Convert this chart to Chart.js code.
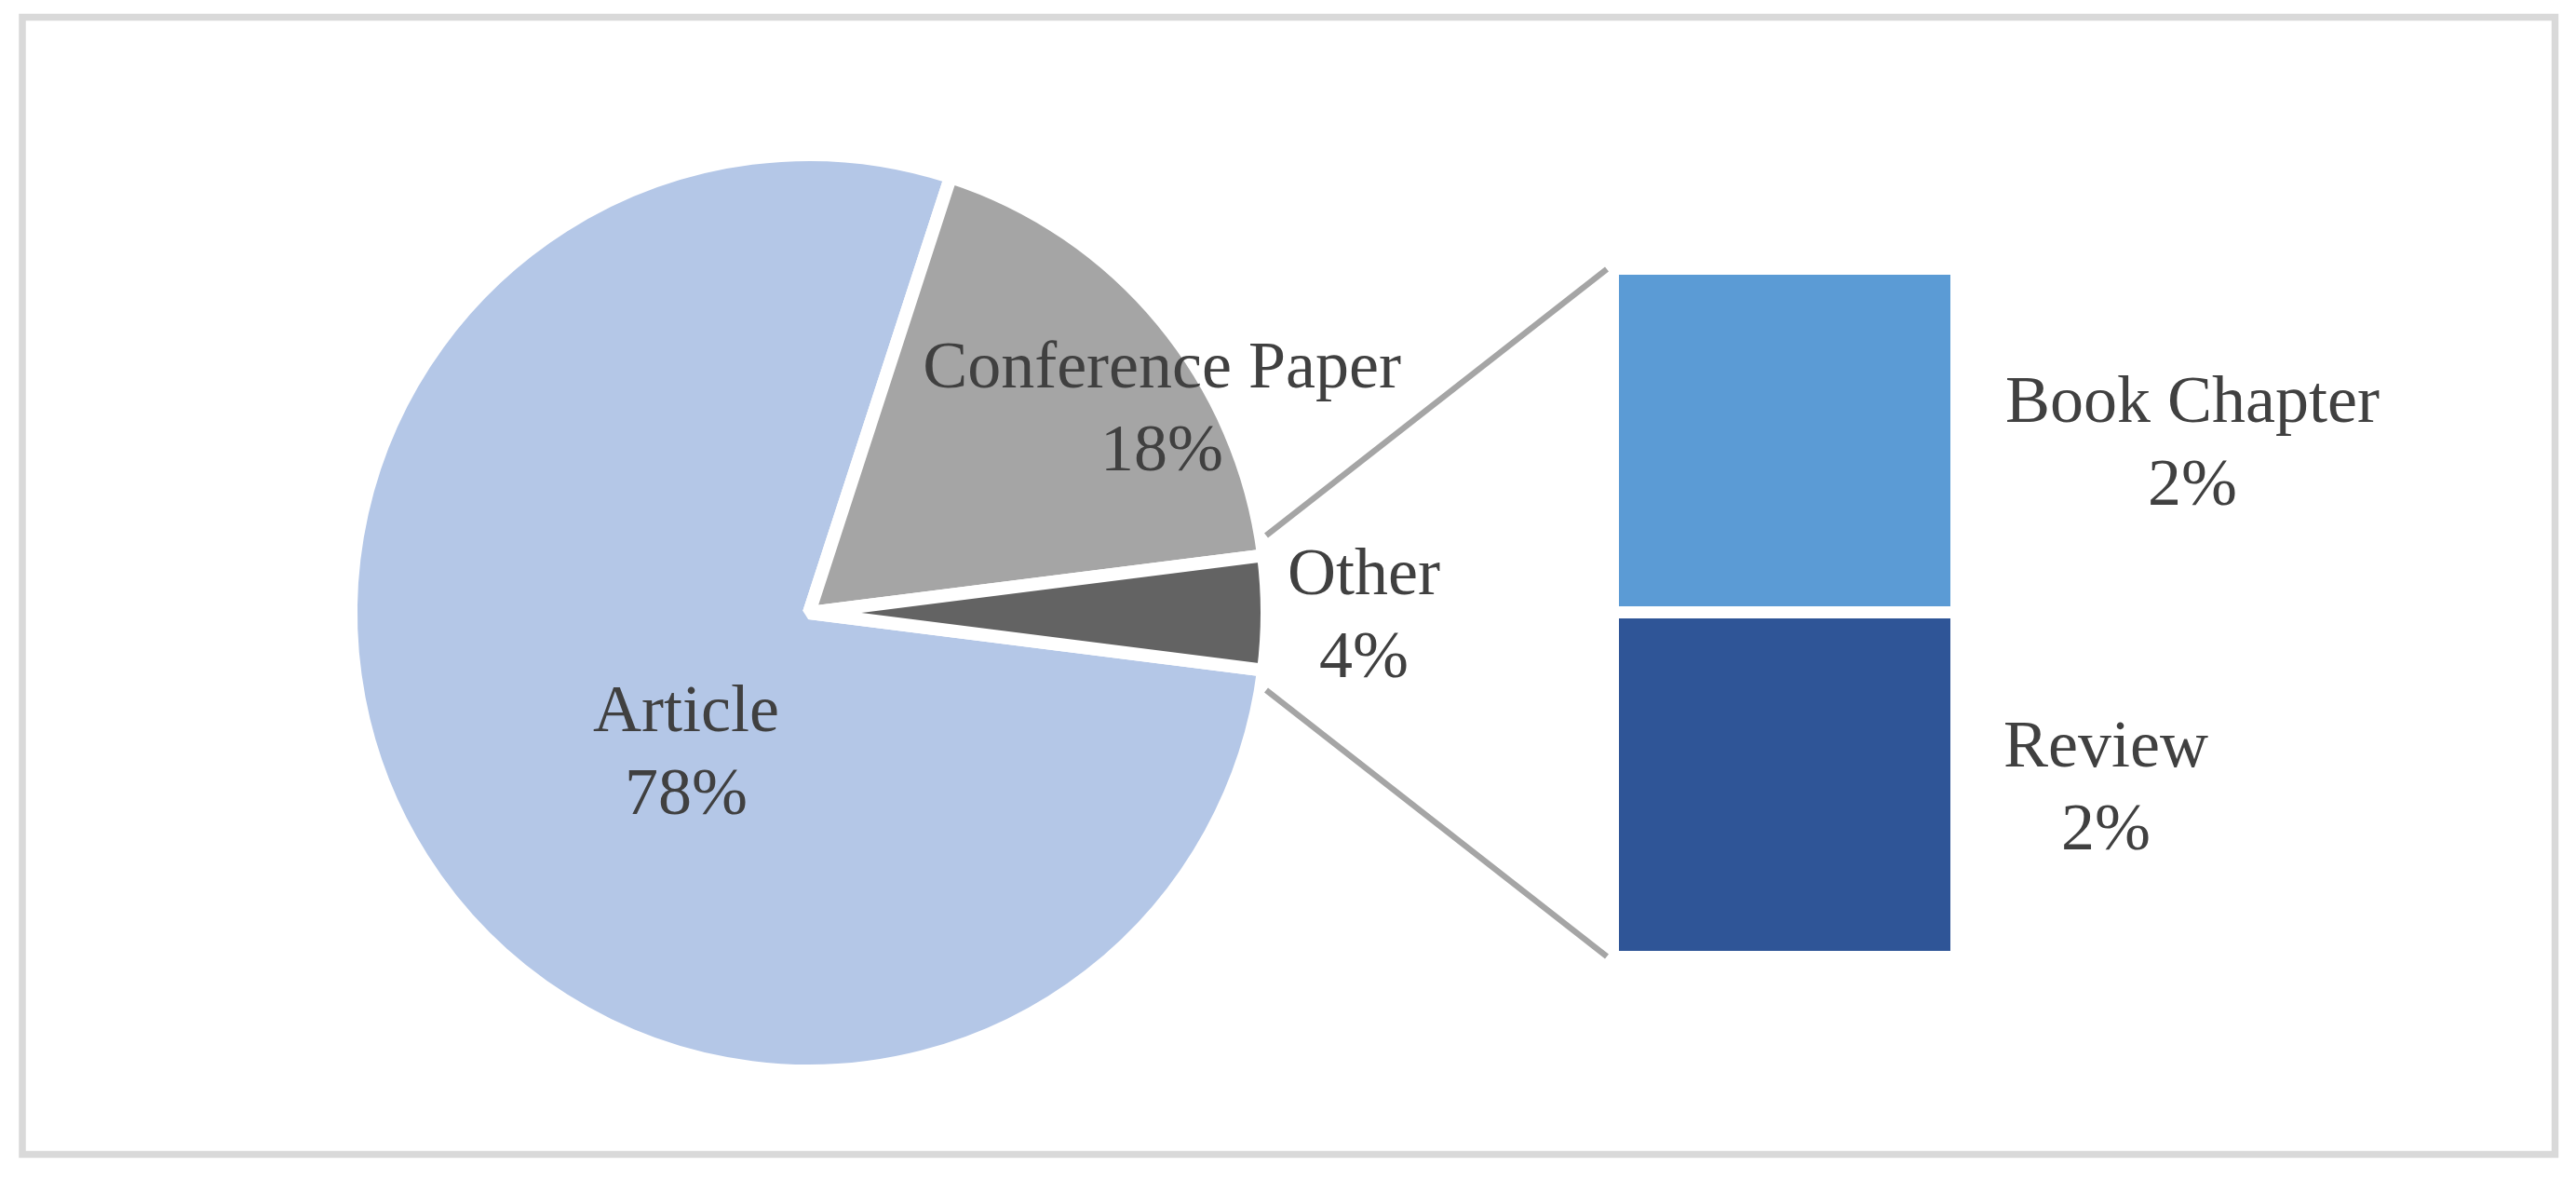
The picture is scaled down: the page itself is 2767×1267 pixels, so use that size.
<!DOCTYPE html>
<html><head><meta charset="utf-8">
<script src="https://cdn.jsdelivr.net/npm/chart.js@4.4.0/dist/chart.umd.min.js"></script>
<style>
html,body{margin:0;padding:0;background:#fff;}
#wrap{position:relative;width:2767px;height:1267px;overflow:hidden;background:#fff;}
canvas{position:absolute;left:0;top:0;}
</style></head><body>
<div id="wrap"><canvas id="pie" width="2767" height="1267"></canvas><canvas id="bar" width="2767" height="1267"></canvas></div>
<script>
// ---- data ----
const pieLabels = ['Article', 'Conference Paper', 'Other'];
const pieValues = [78, 18, 4];
const pieColors = ['#b4c7e7', '#a5a5a5', '#636363'];
const barLabels = ['Review', 'Book Chapter'];
const barValues = [2, 2];
const barColors = ['#2f5597', '#5b9bd5'];

const FONT = '72px "Liberation Serif", "Times New Roman", serif';
const TXT = '#404040';
const LINE_H = 89;

function drawLabel(ctx, lines, x, y) {
  ctx.save();
  ctx.font = FONT;
  ctx.fillStyle = TXT;
  ctx.textAlign = 'center';
  ctx.textBaseline = 'alphabetic';
  lines.forEach((t, i) => ctx.fillText(t, x, y + i * LINE_H));
  ctx.restore();
}

// label anchors (centre x, first baseline y)
const pieLabelPos = [[737, 785], [1248, 416], [1465, 638]];
const barLabelPos = [[2262, 823], [2355, 453]];

const piePlugin = {
  id: 'pieExtras',
  beforeDraw(chart) {
    const ctx = chart.ctx;
    ctx.save();
    ctx.strokeStyle = '#d9d9d9';
    ctx.lineWidth = 7.5;
    ctx.strokeRect(24, 18.5, 2720.5, 1221);
    ctx.restore();
  },
  afterDatasetsDraw(chart) {
    const ctx = chart.ctx;
    pieLabels.forEach((l, i) => {
      drawLabel(ctx, [l, pieValues[i] + '%'], pieLabelPos[i][0], pieLabelPos[i][1]);
    });
  }
};

const pieChart = new Chart(document.getElementById('pie'), {
  type: 'pie',
  data: {
    labels: pieLabels,
    datasets: [{
      data: pieValues,
      backgroundColor: pieColors,
      borderColor: '#ffffff',
      borderWidth: 14
    }]
  },
  options: {
    responsive: false,
    devicePixelRatio: 1,
    animation: false,
    events: [],
    rotation: 97.2,
    radius: 492,
    layout: { padding: { left: 369, right: 1398, top: 158, bottom: 109 } },
    plugins: { legend: { display: false }, tooltip: { enabled: false } }
  },
  plugins: [piePlugin]
});

const barPlugin = {
  id: 'barExtras',
  afterDatasetsDraw(chart) {
    const ctx = chart.ctx;
    barLabels.forEach((l, i) => {
      drawLabel(ctx, [l, barValues[i] + '%'], barLabelPos[i][0], barLabelPos[i][1]);
    });
    // connector lines from the "Other" slice to the bar
    const arc = pieChart.getDatasetMeta(0).data[2];
    const a = arc.getProps(['x', 'y', 'startAngle', 'endAngle', 'outerRadius'], true);
    const topBar = chart.getDatasetMeta(1).data[0].getProps(['x', 'y', 'base', 'width'], true);
    const botBar = chart.getDatasetMeta(0).data[0].getProps(['x', 'y', 'base', 'width'], true);
    const extra = 2.4 * Math.PI / 180;
    const r = a.outerRadius + 6;
    const s1 = [a.x + r * Math.cos(a.startAngle - extra), a.y + r * Math.sin(a.startAngle - extra)];
    const s2 = [a.x + r * Math.cos(a.endAngle + extra), a.y + r * Math.sin(a.endAngle + extra)];
    const e1 = [topBar.x - topBar.width / 2 - 13, topBar.y - 6];
    const e2 = [botBar.x - botBar.width / 2 - 13, botBar.base + 6];
    ctx.save();
    ctx.strokeStyle = '#a5a5a5';
    ctx.lineWidth = 6.5;
    ctx.lineCap = 'butt';
    ctx.beginPath();
    ctx.moveTo(s1[0], s1[1]); ctx.lineTo(e1[0], e1[1]);
    ctx.moveTo(s2[0], s2[1]); ctx.lineTo(e2[0], e2[1]);
    ctx.stroke();
    ctx.restore();
  }
};

new Chart(document.getElementById('bar'), {
  type: 'bar',
  data: {
    labels: ['Other'],
    datasets: [
      { label: barLabels[0], data: [barValues[0]], backgroundColor: barColors[0],
        borderColor: '#ffffff', borderWidth: { top: 6, bottom: 0, left: 0, right: 0 }, borderSkipped: false },
      { label: barLabels[1], data: [barValues[1]], backgroundColor: barColors[1],
        borderColor: '#ffffff', borderWidth: { top: 0, bottom: 7, left: 0, right: 0 }, borderSkipped: false }
    ]
  },
  options: {
    responsive: false,
    devicePixelRatio: 1,
    animation: false,
    events: [],
    layout: { padding: { left: 1739, right: 672, top: 295, bottom: 246 } },
    datasets: { bar: { categoryPercentage: 1, barPercentage: 1, inflateAmount: 0 } },
    scales: {
      x: { display: false, stacked: true },
      y: { display: false, stacked: true, min: 0, max: 4 }
    },
    plugins: { legend: { display: false }, tooltip: { enabled: false } }
  },
  plugins: [barPlugin]
});
</script>
</body></html>
